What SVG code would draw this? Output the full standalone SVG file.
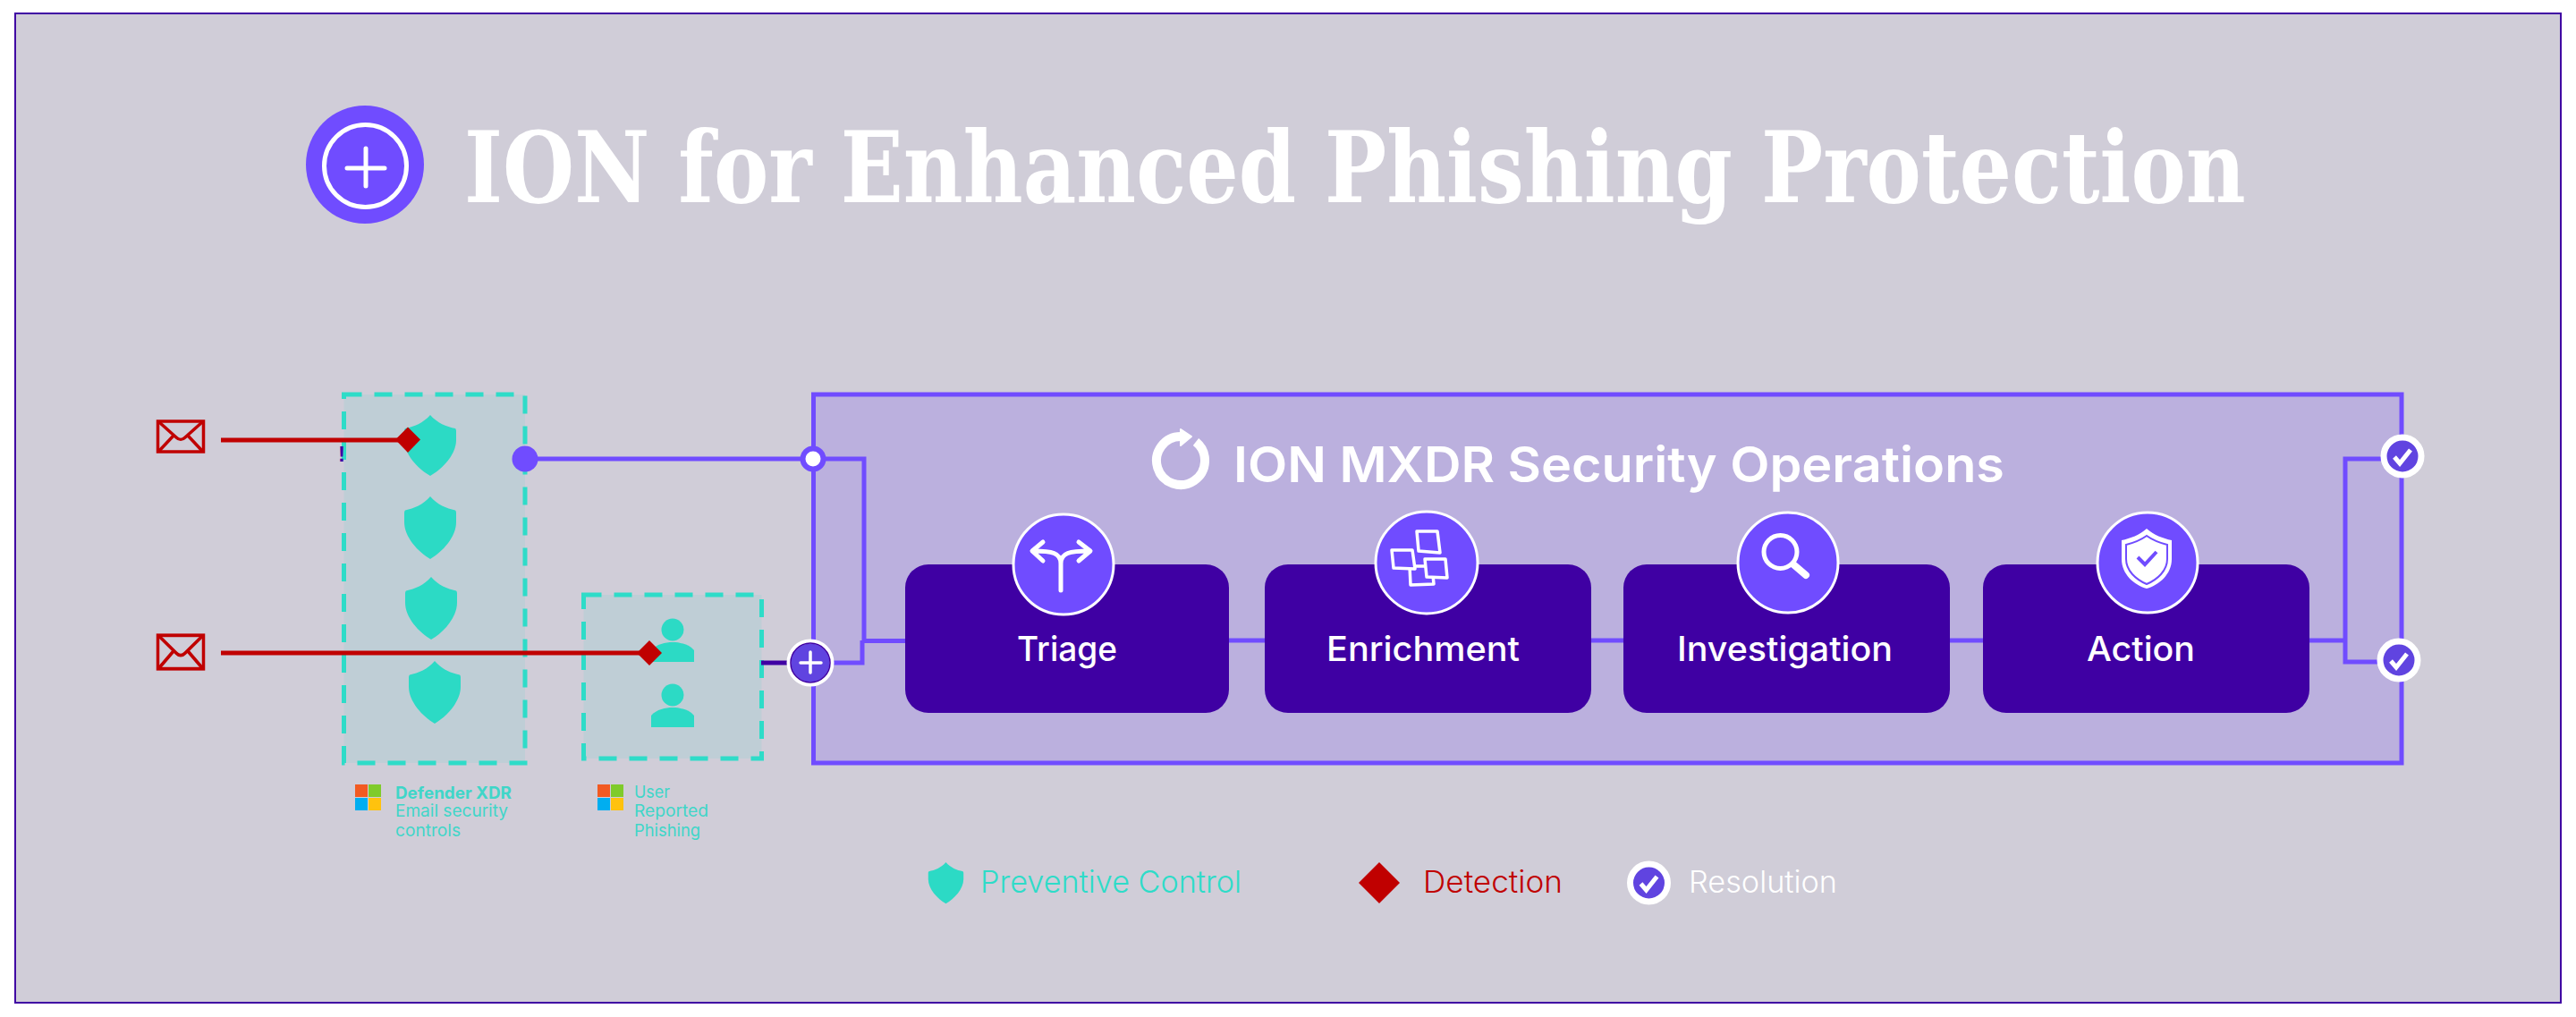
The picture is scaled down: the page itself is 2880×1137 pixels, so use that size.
<svg xmlns="http://www.w3.org/2000/svg" xmlns:xlink="http://www.w3.org/1999/xlink" width="2880" height="1137" viewBox="0 0 2880 1137">
<style>
text{font-family:"Inter","Liberation Sans",sans-serif}
.title{font-family:"DejaVu Serif","Liberation Serif",serif;font-weight:700;font-size:110px;fill:#fff}
.head{font-weight:600;font-size:55px;fill:#fff}
.card{fill:#3f00a3}
.cardlabel{font-weight:500;font-size:38px;fill:#fff}
.disc{fill:#704cff;stroke:#fff;stroke-width:3}
.ic{fill:none;stroke:#fff;stroke-width:5;stroke-linecap:round;stroke-linejoin:round}
.tealbox{fill:#bfced6;stroke:#2edcc8;stroke-width:5;stroke-dasharray:20 14}
.teal{fill:#2cdac5}
.lab{font-size:18.5px;fill:#3fd6c8}
.red{stroke:#c00000;stroke-width:5;fill:none}
.redfill{fill:#c00000}
.vio{stroke:#704cff;stroke-width:5;fill:none}
.leg{font-size:34px;font-weight:300}
.env{fill:none;stroke:#c00000;stroke-width:3.5}
.check{fill:none;stroke:#fff;stroke-width:5}
</style>
<defs>
<path id="shield" d="M0 0C8 9 18 13 28 15C29 16 29 17 29 19V28C29 44 14 60 0 68C-14 60 -29 44 -29 28V19C-29 17 -29 16 -28 15C-18 13 -8 9 0 0Z"/>
<g id="person"><circle cx="0" cy="0" r="12.5"/><path d="M-24 36V23C-18 16 -8 14 0 14C8 14 18 16 24 23V36Z"/></g>
<g id="envelope"><rect x="-25.500" y="-17" width="51" height="34" class="env"/><path class="env" d="M-24 -16L-5 1C-2 4 2 4 5 1L24 -16M-24 16L-8 -1M24 16L8 -1"/></g>
<g id="ms"><rect x="0" y="0" width="14" height="14" fill="#f25a22"/><rect x="15" y="0" width="14" height="14" fill="#7fcb2b"/><rect x="0" y="15" width="14" height="14" fill="#00aef0"/><rect x="15" y="15" width="14" height="14" fill="#ffc20e"/></g>
<g id="resolved"><circle r="21" fill="#6044e0" stroke="#fff" stroke-width="7"/><path class="check" d="M-9 1L-3 8L9 -7"/></g>
</defs>

<rect id="background" x="17" y="15" width="2846" height="1106" fill="#d0cdd8" stroke="#3f00a3" stroke-width="2"/>

<g id="title">
<circle cx="408" cy="184" r="66" fill="#704cff"/>
<circle cx="408.500" cy="185.500" r="46" fill="none" stroke="#fff" stroke-width="5"/>
<path d="M388 188H430M409 166V208" fill="none" stroke="#fff" stroke-width="5" stroke-linecap="round"/>
<text class="title" transform="translate(519 226) scale(0.8365 1)" x="0" y="0">ION for Enhanced Phishing Protection</text>
</g>

<g id="mxdr-box">
<rect x="909.500" y="441" width="1775.500" height="412" fill="#bbb0de" stroke="#704cff" stroke-width="5"/>
<path d="M1320 488A27 27 0 1 0 1337 494" fill="none" stroke="#fff" stroke-width="10"/>
<path d="M1320 480L1332 488L1320 498Z" fill="#fff" stroke="#fff" stroke-width="2" stroke-linejoin="round"/>
<text class="head" x="1379" y="539" textLength="862" lengthAdjust="spacingAndGlyphs">ION MXDR Security Operations</text>
</g>

<g id="defender-box">
<rect class="tealbox" x="384.500" y="441" width="202.500" height="412"/>
<use xlink:href="#shield" href="#shield" class="teal" transform="translate(481 464)"/>
<use xlink:href="#shield" href="#shield" class="teal" transform="translate(481 555) scale(1 1.03)"/>
<use xlink:href="#shield" href="#shield" class="teal" transform="translate(482 645) scale(1 1.03)"/>
<use xlink:href="#shield" href="#shield" class="teal" transform="translate(486 739) scale(1 1.03)"/>
<text x="382" y="516" font-size="24" font-weight="700" fill="#3f00a3" style="font-family:'Liberation Sans',sans-serif" text-anchor="middle">!</text>
</g>
<g id="defender-label">
<use xlink:href="#ms" href="#ms" x="397" y="877"/>
<text class="lab" x="442" y="893" font-weight="700" textLength="130" lengthAdjust="spacingAndGlyphs">Defender XDR</text>
<text class="lab" x="442" y="913" textLength="126" lengthAdjust="spacingAndGlyphs">Email security</text>
<text class="lab" x="442" y="935" textLength="73" lengthAdjust="spacingAndGlyphs">controls</text>
</g>

<g id="user-box">
<rect class="tealbox" x="652.500" y="665" width="199" height="183"/>
<use xlink:href="#person" href="#person" class="teal" x="752" y="704"/>
<use xlink:href="#person" href="#person" class="teal" x="752" y="777"/>
</g>
<g id="user-label">
<use xlink:href="#ms" href="#ms" x="668" y="877"/>
<text class="lab" x="709" y="892" textLength="40" lengthAdjust="spacingAndGlyphs">User</text>
<text class="lab" x="709" y="913" textLength="83" lengthAdjust="spacingAndGlyphs">Reported</text>
<text class="lab" x="709" y="935" textLength="74" lengthAdjust="spacingAndGlyphs">Phishing</text>
</g>

<g id="connectors">
<path class="red" d="M247 492H456"/>
<path class="red" d="M247 730H726"/>
<path class="vio" d="M587 513H966V716.500H1014"/>
<path class="vio" d="M930 741H964V716"/>
<path d="M851 741H880" stroke="#3f00a3" stroke-width="5" fill="none"/>
<path class="vio" d="M1372 716H1416"/>
<path class="vio" d="M1779 716H1817"/>
<path class="vio" d="M2178 716H2219"/>
<path class="vio" d="M2582 716H2622"/>
<path class="vio" d="M2665 513H2622V740H2662"/>
</g>

<g id="envelope-1"><use xlink:href="#envelope" href="#envelope" x="202" y="488"/></g>
<g id="envelope-2"><use xlink:href="#envelope" href="#envelope" transform="translate(202 729) scale(1 1.1)"/></g>
<g id="detection-1"><path class="redfill" d="M456 477.500L470 491.500L456 506L442 491.500Z"/></g>
<g id="detection-2"><path class="redfill" d="M726 716L740 730L726 744L712 730Z"/></g>
<g id="port-defender"><circle cx="587" cy="513" r="14.500" fill="#704cff"/></g>
<g id="port-mxdr"><circle cx="909" cy="513" r="11.500" fill="#fff" stroke="#704cff" stroke-width="6"/></g>
<g id="port-plus">
<circle cx="906" cy="741" r="24" fill="#6044e0" stroke="#fff" stroke-width="5"/>
<circle cx="906" cy="741" r="22" fill="none" stroke="#3f00a3" stroke-width="1.500"/>
<path d="M906 729V752M895 741H918" stroke="#fff" stroke-width="3.500" stroke-linecap="round" fill="none"/>
</g>

<g id="triage">
<rect class="card" x="1012" y="631" width="362" height="166" rx="26"/>
<circle class="disc" cx="1189" cy="631" r="56"/>
<path class="ic" d="M1186 660V630C1186 618 1176 616 1155 616M1186 630C1186 618 1196 616 1218 616M1166 606L1154 616L1166 627M1206 606L1219 616L1206 627"/>
<text class="cardlabel" x="1193" y="739" text-anchor="middle" textLength="112" lengthAdjust="spacingAndGlyphs">Triage</text>
</g>
<g id="enrichment">
<rect class="card" x="1414" y="631" width="365" height="166" rx="26"/>
<circle class="disc" cx="1595" cy="629" r="57"/>
<g fill="#704cff" stroke="#fff" stroke-width="3.500" stroke-linejoin="round">
<path d="M1576 633H1601L1603 653L1577 654Z"/>
<path d="M1584 594H1607L1610 618L1586 616Z"/>
<path d="M1556 615H1579L1582 636L1558 635Z"/>
<path d="M1593 625H1616L1618 646L1595 645Z"/>
</g>
<text class="cardlabel" x="1483" y="739" textLength="216" lengthAdjust="spacingAndGlyphs">Enrichment</text>
</g>
<g id="investigation">
<rect class="card" x="1815" y="631" width="365" height="166" rx="26"/>
<circle class="disc" cx="1999" cy="629" r="56"/>
<circle cx="1990.500" cy="617" r="18.500" fill="none" stroke="#fff" stroke-width="5"/>
<path d="M2005 631L2019 643" stroke="#fff" stroke-width="8" stroke-linecap="round"/>
<text class="cardlabel" x="1875" y="739" textLength="241" lengthAdjust="spacingAndGlyphs">Investigation</text>
</g>
<g id="action">
<rect class="card" x="2217" y="631" width="365" height="166" rx="26"/>
<circle class="disc" cx="2401" cy="629" r="56"/>
<path d="M2400 591C2408 598 2418 602 2428 604V625C2428 642 2414 654 2400 658C2386 654 2372 642 2372 625V604C2382 602 2392 598 2400 591Z" fill="#fff"/>
<path d="M2400 599C2407 604 2415 607 2423 609V625C2423 638 2412 648 2400 653C2388 648 2377 638 2377 625V609C2385 607 2393 604 2400 599Z" fill="#fff" stroke="#704cff" stroke-width="2"/>
<path d="M2390 623L2398 631L2411 617" fill="none" stroke="#704cff" stroke-width="4"/>
<text class="cardlabel" x="2333" y="739" textLength="121" lengthAdjust="spacingAndGlyphs">Action</text>
</g>

<g id="resolution-1"><use xlink:href="#resolved" href="#resolved" x="2686" y="510"/></g>
<g id="resolution-2"><use xlink:href="#resolved" href="#resolved" x="2682" y="738"/></g>

<g id="legend">
<use xlink:href="#shield" href="#shield" class="teal" transform="translate(1057.500 964) scale(0.68)"/>
<text class="leg" x="1096" y="998" fill="#2edcc8" textLength="292" lengthAdjust="spacingAndGlyphs">Preventive Control</text>
<path class="redfill" d="M1542 964L1565 987L1542 1010L1519 987Z"/>
<text class="leg" x="1591" y="998" fill="#c00000" textLength="156" lengthAdjust="spacingAndGlyphs">Detection</text>
<use xlink:href="#resolved" href="#resolved" x="1843.500" y="987"/>
<text class="leg" x="1888" y="998" fill="#fff" textLength="166" lengthAdjust="spacingAndGlyphs">Resolution</text>
</g>
</svg>
